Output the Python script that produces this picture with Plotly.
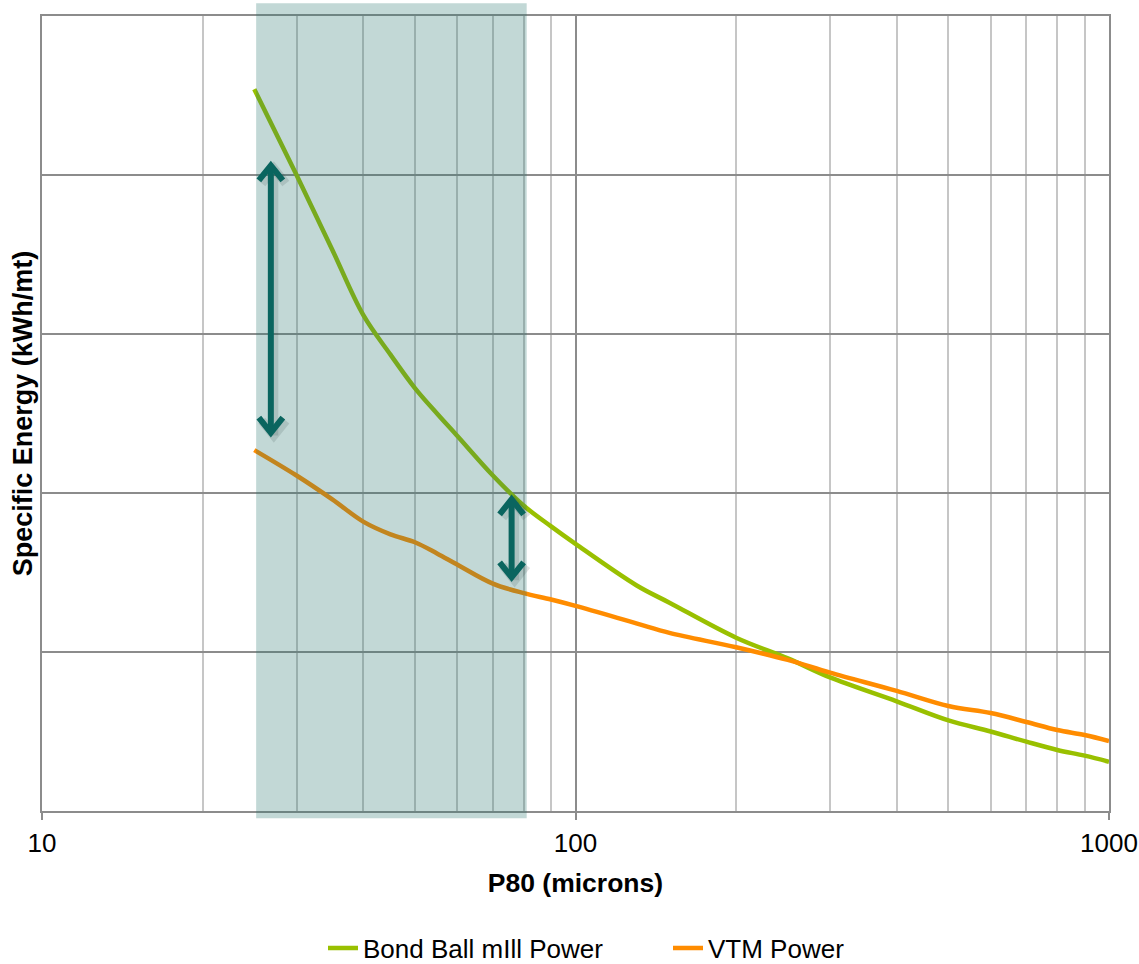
import math
import plotly.graph_objects as go

# ---------------- data ----------------
particle_size = [25, 30, 35, 40, 45, 50, 55, 60, 70, 80, 90, 100, 130, 150, 200, 250, 300,
                 400, 500, 600, 700, 800, 900, 1000]
bond_power = [4.54, 4.00, 3.53, 3.12, 2.87, 2.66, 2.50, 2.36, 2.11, 1.92, 1.79, 1.68, 1.42,
              1.31, 1.09, 0.96, 0.84, 0.69, 0.57, 0.50, 0.436, 0.384, 0.348, 0.31]
vtm_power = [2.27, 2.11, 1.96, 1.82, 1.74, 1.69, 1.62, 1.55, 1.43, 1.37, 1.33, 1.29, 1.18,
             1.12, 1.03, 0.95, 0.87, 0.755, 0.66, 0.616, 0.56, 0.509, 0.478, 0.44]

series_names = ["Bond Ball mIll Power", "VTM Power"]
series_colors = ["#99c000", "#ff8c00"]

x_major_ticks = [10, 100, 1000]
x_tick_labels = ["10", "100", "1000"]
x_minor_ticks = [20, 30, 40, 50, 60, 70, 80, 90, 200, 300, 400, 500, 600, 700, 800, 900]

shade_range = [25.2, 81]          # shaded P80 window
arrow_x = [26.85, 75.9]           # double-headed arrows (P80 position)
arrow_y_low = [2.38, 1.47]
arrow_y_high = [4.06, 1.96]

x_title = "P80 (microns)"
y_title = "Specific Energy (kWh/mt)"

# ---------------- figure ----------------
fig = go.Figure()

for name, yv, col in zip(series_names, [bond_power, vtm_power], series_colors):
    fig.add_trace(go.Scatter(
        x=particle_size, y=yv, name=name, mode="lines",
        line=dict(color=col, width=4.5, shape="spline", smoothing=1.0),
    ))

# arrows (shaft + chevron heads), sized in pixel-equivalent offsets
AX_DEC_PER_PX = 2.0 / 1067.0   # log10 decades per pixel on x
Y_PER_PX = 5.0 / 795.0         # data units per pixel on y
ARROW_COL = "#00605a"
hw, hd = 12, 15   # chevron half-width and depth in px
for ax_, ylo, yhi in zip(arrow_x, arrow_y_low, arrow_y_high):
    lx = math.log10(ax_)
    for off, col, w in [((3, 3), "rgba(0,0,0,0.12)", 9), ((0, 0), ARROW_COL, 6)]:
        dx = off[0] * AX_DEC_PER_PX
        dy = -off[1] * Y_PER_PX
        xc = 10 ** (lx + dx)
        xl = 10 ** (lx + dx - hw * AX_DEC_PER_PX)
        xr = 10 ** (lx + dx + hw * AX_DEC_PER_PX)
        fig.add_trace(go.Scatter(
            x=[xc, xc, None, xl, xc, xr, None, xl, xc, xr],
            y=[ylo + dy, yhi + dy, None,
               yhi - hd * Y_PER_PX + dy, yhi + dy, yhi - hd * Y_PER_PX + dy, None,
               ylo + hd * Y_PER_PX + dy, ylo + dy, ylo + hd * Y_PER_PX + dy],
            mode="lines", line=dict(color=col, width=w),
            showlegend=False, hoverinfo="skip",
        ))

fig.add_shape(type="rect", xref="x", yref="paper",
              x0=shade_range[0], x1=shade_range[1], y0=-0.009, y1=1.016,
              fillcolor="rgba(37,116,108,0.28)", line=dict(width=0), layer="above")

FONT = "Liberation Sans, Arial, sans-serif"
fig.update_layout(
    width=1139, height=964,
    margin=dict(l=42, r=30, t=16, b=153, autoexpand=False),
    paper_bgcolor="white", plot_bgcolor="white",
    font=dict(family=FONT, color="black"),
    showlegend=True,
    legend=dict(orientation="h", xref="container", x=323 / 1139, xanchor="left",
                yref="container", y=16 / 964, yanchor="middle",
                entrywidth=300, entrywidthmode="pixels",
                font=dict(size=26, family=FONT), traceorder="normal"),
    xaxis=dict(
        type="log", range=[1, 3], automargin=False,
        tickmode="array", tickvals=x_major_ticks, ticktext=x_tick_labels,
        tickfont=dict(size=26, family=FONT),
        ticks="outside", ticklen=7, tickwidth=2, tickcolor="#8c8c8c",
        ticklabelstandoff=1,
        showgrid=True, gridcolor="#8c8c8c", gridwidth=2,
        minor=dict(tickmode="array", tickvals=x_minor_ticks, showgrid=True,
                   gridcolor="#c6c6c6", gridwidth=2, ticks=""),
        showline=True, linecolor="#8c8c8c", linewidth=2, mirror=True,
        zeroline=False,
        title=dict(text="<b>" + x_title + "</b>", font=dict(size=26.5, family=FONT), standoff=16),
    ),
    yaxis=dict(
        range=[0, 5], dtick=1, showticklabels=False, ticks="", automargin=False,
        showgrid=True, gridcolor="#8c8c8c", gridwidth=2,
        showline=True, linecolor="#8c8c8c", linewidth=2, mirror=True,
        zeroline=False,
        title=dict(text="<b>" + y_title + "</b>", font=dict(size=27, family=FONT), standoff=0),
    ),
)

fig.write_html("out.html", config={"displayModeBar": False},
               post_script="document.body.style.margin='0';")
